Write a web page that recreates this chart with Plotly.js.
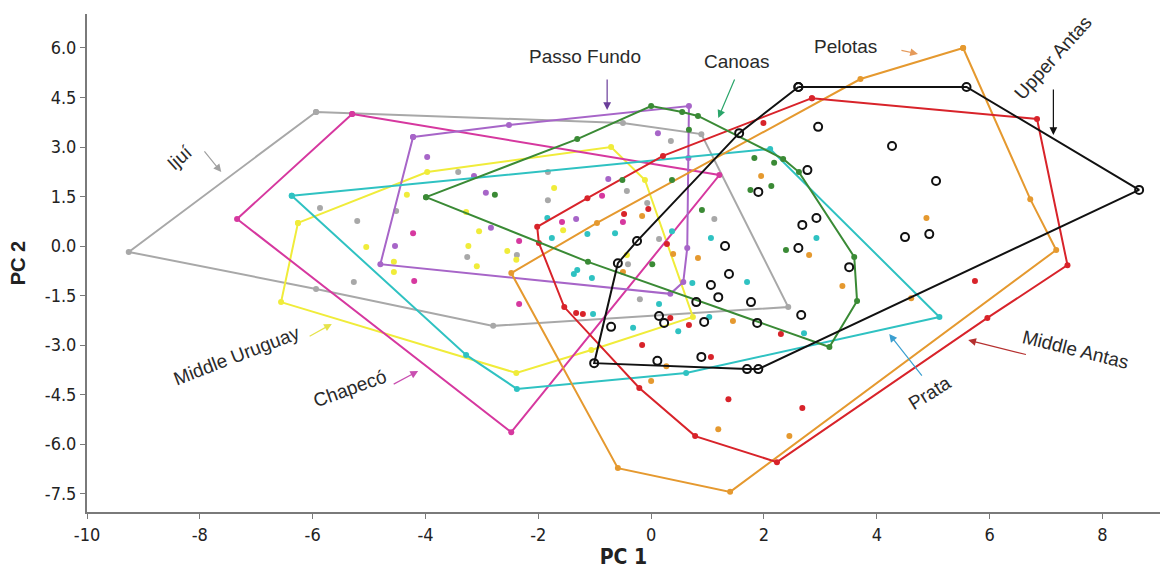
<!DOCTYPE html>
<html>
<head>
<meta charset="utf-8">
<script src="https://cdn.plot.ly/plotly-3.0.1.min.js"></script>
<style>html,body{margin:0;padding:0;background:#fff;}#chart{width:1166px;height:569px;}</style>
</head>
<body>
<div id="chart"></div>
<script>
// ---- Data (PC1, PC2) ----
const ijuiHullX = [-5.94, -0.50, 0.89, 2.43, -2.80, -5.94, -9.26];
const ijuiHullY = [4.06, 3.73, 3.39, -1.85, -2.42, -1.30, -0.18];
const ijuiPtsX = [-3.42, -1.83, -1.83, -5.87, -5.21, -4.52, -3.26, -2.38, 0.35, -0.43, -0.07, 1.12, 0.14, -0.41, -0.20, -5.27];
const ijuiPtsY = [2.24, 2.24, 1.39, 1.15, 0.76, 1.06, -0.33, -0.27, 3.18, 1.67, 1.30, 0.82, 0.21, -0.55, -1.61, -1.09];

const chapecoHullX = [-5.30, -7.34, -2.48, 1.21];
const chapecoHullY = [4.00, 0.82, -5.64, 2.15];
const chapecoPtsX = [-4.22, -2.34, -1.58, -0.87, -0.50, -4.20, -2.34];
const chapecoPtsY = [0.39, 0.15, 0.73, 1.52, 0.73, -1.06, -1.76];

const passoHullX = [-4.22, -2.52, 0.67, 0.66, 0.64, 0.57, 0.34, -4.80];
const passoHullY = [3.30, 3.67, 4.24, 2.67, -0.06, -1.09, -1.45, -0.55];
const passoPtsX = [-3.97, -3.14, -2.93, -2.84, -4.54, -1.33, 0.12, -0.76];
const passoPtsY = [2.70, 2.12, 1.61, 0.55, 0.00, 0.82, 3.42, 2.03];

const uruguayHullX = [-6.26, -3.97, -0.71, -0.11, 0.74, -1.06, -2.39, -6.56];
const uruguayHullY = [0.70, 2.24, 3.00, 2.00, -2.15, -3.15, -3.85, -1.70];
const uruguayPtsX = [-4.33, -3.28, -3.05, -3.24, -5.05, -4.56, -4.56, -3.09, -2.55, -2.39, -1.72, -1.56, -0.43];
const uruguayPtsY = [1.55, 1.03, 0.45, 0.00, -0.03, -0.48, -0.79, -0.61, -0.15, -0.42, 1.76, 0.48, -0.27];

const prataHullX = [-6.37, 2.11, 5.11, 0.62, -2.38, -3.28];
const prataHullY = [1.52, 2.94, -2.15, -3.85, -4.33, -3.30];
const prataPtsX = [-1.84, -1.76, -1.13, -0.64, 0.37, 1.06, 2.93, -1.31, -1.37, -1.05, 0.14, 0.73, 1.70, -1.03, -0.32, 0.48, 1.03, 2.71];
const prataPtsY = [0.85, 0.24, 0.36, 0.39, 0.45, 0.24, 0.24, -0.73, -0.85, -0.97, -1.76, -1.12, -1.09, -2.06, -2.48, -2.58, -2.15, -2.64];

const canoasHullX = [-3.99, -1.31, 0.00, 0.55, 0.83, 2.34, 2.62, 3.60, 3.65, 3.16, -1.12];
const canoasHullY = [1.48, 3.24, 4.24, 4.06, 3.94, 2.64, 2.24, -0.33, -1.67, -3.06, -0.48];
const canoasPtsX = [0.67, -0.51, 0.37, -2.77, 1.83, 2.18, 2.13, 1.76, 0.90, 2.39, 0.02];
const canoasPtsY = [3.52, 2.00, 2.00, 1.55, 2.67, 2.52, 1.82, 1.70, 1.09, -0.12, -0.55];

const upperHullX = [2.61, 5.59, 8.65, 1.90, 1.70, -1.01, -0.59, -0.25, 1.56];
const upperHullY = [4.82, 4.82, 1.70, -3.73, -3.73, -3.55, -0.52, 0.15, 3.42];
const upperPtsX = [2.96, 4.27, 5.05, 2.77, 1.90, 2.93, 2.68, 1.31, 2.61, 4.50, 4.93, 3.51, 1.38, 1.06, 1.19, 0.80, 1.77, 0.14, 0.23, -0.71, 0.94, 1.88, 2.66, 0.11, 0.89];
const upperPtsY = [3.61, 3.03, 1.97, 2.30, 1.64, 0.85, 0.64, 0.00, -0.06, 0.27, 0.36, -0.64, -0.85, -1.18, -1.55, -1.70, -1.70, -2.12, -2.33, -2.45, -2.30, -2.33, -2.09, -3.48, -3.36];

const midAntasHullX = [2.85, 6.84, 7.38, 5.96, 2.23, 0.78, -0.21, -1.54, -1.99, -2.02, -1.13, 0.21];
const midAntasHullY = [4.48, 3.85, -0.58, -2.18, -6.55, -5.76, -4.30, -1.85, 0.09, 0.58, 1.45, 2.73];
const midAntasPtsX = [1.99, -0.48, -0.05, 0.28, -1.33, -1.21, 0.34, 0.67, -0.16, 1.06, 2.30, 1.37, 2.68, 5.74];
const midAntasPtsY = [3.73, 0.97, 1.12, 0.06, -2.03, -2.06, -2.18, -2.39, -3.00, -3.36, -2.67, -4.64, -4.91, -1.06];

const pelotasHullX = [5.53, 6.72, 7.18, 1.40, -0.59, -2.48, -0.96, 3.71];
const pelotasHullY = [6.00, 1.42, -0.12, -7.45, -6.73, -0.82, 0.70, 5.06];
const pelotasPtsX = [-0.16, 1.95, 0.39, 0.83, 2.80, -0.50, 1.45, 0.27, 0.00, 1.19, 2.45, 4.88, 3.39, 4.61];
const pelotasPtsY = [0.91, 2.12, -0.24, -0.36, -0.27, -0.79, -2.27, -3.64, -4.09, -5.55, -5.76, 0.85, -1.21, -1.58];

const xTickVals = [-10, -8, -6, -4, -2, 0, 2, 4, 6, 8];
const xTickText = ['-10', '-8', '-6', '-4', '-2', '0', '2', '4', '6', '8'];
const yTickVals = [-7.5, -6, -4.5, -3, -1.5, 0, 1.5, 3, 4.5, 6];
const yTickText = ['-7.5', '-6.0', '-4.5', '-3.0', '-1.5', '0.0', '1.5', '3.0', '4.5', '6.0'];

// group labels and arrows: [label, textX, textY, angle, tailX, tailY, headX, headY]
const groupLabels = ['Ijuí', 'Passo Fundo', 'Canoas', 'Pelotas', 'Upper Antas', 'Middle Uruguay', 'Chapecó', 'Prata', 'Middle Antas'];
const labelX = [-8.35, -1.17, 1.52, 3.44, 7.13, -7.34, -5.34, 4.95, 7.52];
const labelY = [2.67, 5.73, 5.58, 6.06, 5.70, -3.33, -4.33, -4.45, -3.15];
const labelAngle = [-42, 0, 0, 0, -48, -21, -20, -32, 14];
const arrowTailX = [-7.94, -0.78, 1.49, 4.41, 7.13, -6.08, -4.59, 4.82, 6.67];
const arrowTailY = [2.91, 5.09, 5.09, 5.94, 4.79, -2.76, -4.21, -3.97, -3.30];
const arrowHeadX = [-7.62, -0.78, 1.19, 4.73, 7.13, -5.66, -4.13, 4.22, 5.62];
const arrowHeadY = [2.24, 4.12, 3.88, 5.82, 3.36, -2.36, -3.79, -2.67, -2.85];
const arrowColor = ['#a0a0a0', '#6a3d9a', '#2aa56a', '#e59a5a', '#111111', '#e6e34a', '#c94fb0', '#3b9fd0', '#b5302f'];

// ---- Build traces ----
function closed(a) { return a.concat([a[0]]); }
const groups = [
  {name: 'Ijuí', hx: ijuiHullX, hy: ijuiHullY, px: ijuiPtsX, py: ijuiPtsY, c: '#a8a8a8'},
  {name: 'Middle Uruguay', hx: uruguayHullX, hy: uruguayHullY, px: uruguayPtsX, py: uruguayPtsY, c: '#f0ec3a'},
  {name: 'Chapecó', hx: chapecoHullX, hy: chapecoHullY, px: chapecoPtsX, py: chapecoPtsY, c: '#d6389f'},
  {name: 'Passo Fundo', hx: passoHullX, hy: passoHullY, px: passoPtsX, py: passoPtsY, c: '#a765c8'},
  {name: 'Prata', hx: prataHullX, hy: prataHullY, px: prataPtsX, py: prataPtsY, c: '#2fc2c2'},
  {name: 'Pelotas', hx: pelotasHullX, hy: pelotasHullY, px: pelotasPtsX, py: pelotasPtsY, c: '#e5992f'},
  {name: 'Middle Antas', hx: midAntasHullX, hy: midAntasHullY, px: midAntasPtsX, py: midAntasPtsY, c: '#d8232a'},
  {name: 'Canoas', hx: canoasHullX, hy: canoasHullY, px: canoasPtsX, py: canoasPtsY, c: '#3a8a35'},
  {name: 'Upper Antas', hx: upperHullX, hy: upperHullY, px: upperPtsX, py: upperPtsY, c: '#111111', open: true}
];
const traces = [];
groups.forEach(g => {
  const mk = g.open
    ? {symbol: 'circle-open', size: 8, color: g.c, line: {width: 2, color: g.c}}
    : {symbol: 'circle', size: 6, color: g.c};
  traces.push({x: closed(g.hx), y: closed(g.hy), mode: 'lines+markers', type: 'scatter',
    line: {color: g.c, width: 2}, marker: mk, name: g.name, showlegend: false, hoverinfo: 'skip'});
  traces.push({x: g.px, y: g.py, mode: 'markers', type: 'scatter',
    marker: mk, name: g.name, showlegend: false});
});

const annotations = [];
groupLabels.forEach((t, i) => {
  annotations.push({x: labelX[i], y: labelY[i], xref: 'x', yref: 'y', text: t, showarrow: false,
    textangle: labelAngle[i], font: {family: 'Liberation Sans, Arial, sans-serif', size: 19, color: '#2a2a2a'}});
  annotations.push({x: arrowHeadX[i], y: arrowHeadY[i], xref: 'x', yref: 'y', ax: arrowTailX[i], ay: arrowTailY[i],
    axref: 'x', ayref: 'y', text: '', showarrow: true, arrowhead: 2, arrowsize: 1.3, arrowwidth: 1.2,
    arrowcolor: arrowColor[i], standoff: 0, startstandoff: 0});
});

const tickFont = {family: 'Liberation Sans Narrow, DejaVu Sans Condensed, Arial Narrow, sans-serif', size: 18, color: '#222'};
const layout = {
  width: 1166, height: 569,
  margin: {l: 87, r: 6, t: 14, b: 57},
  paper_bgcolor: '#ffffff', plot_bgcolor: '#ffffff',
  showlegend: false,
  xaxis: {range: [-10, 9.02], showgrid: false, zeroline: false, showline: true, linecolor: '#7a7a7a', linewidth: 2,
    ticks: 'outside', ticklen: 5, tickcolor: '#7a7a7a', tickvals: xTickVals, ticktext: xTickText, tickfont: tickFont,
    title: {text: '<b>PC 1</b>', font: {family: 'Liberation Sans Narrow, DejaVu Sans Condensed, Arial, sans-serif', size: 21, color: '#222'}, standoff: 2}},
  yaxis: {range: [-8.06, 7.03], showgrid: false, zeroline: false, showline: true, linecolor: '#7a7a7a', linewidth: 2,
    ticks: 'outside', ticklen: 5, tickcolor: '#7a7a7a', tickvals: yTickVals, ticktext: yTickText, tickfont: tickFont,
    title: {text: '<b>PC 2</b>', font: {family: 'Liberation Sans, Arial, sans-serif', size: 20, color: '#222'}, standoff: 14}},
  annotations: annotations
};
Plotly.newPlot('chart', traces, layout, {staticPlot: true, displayModeBar: false});
</script>
</body>
</html>
